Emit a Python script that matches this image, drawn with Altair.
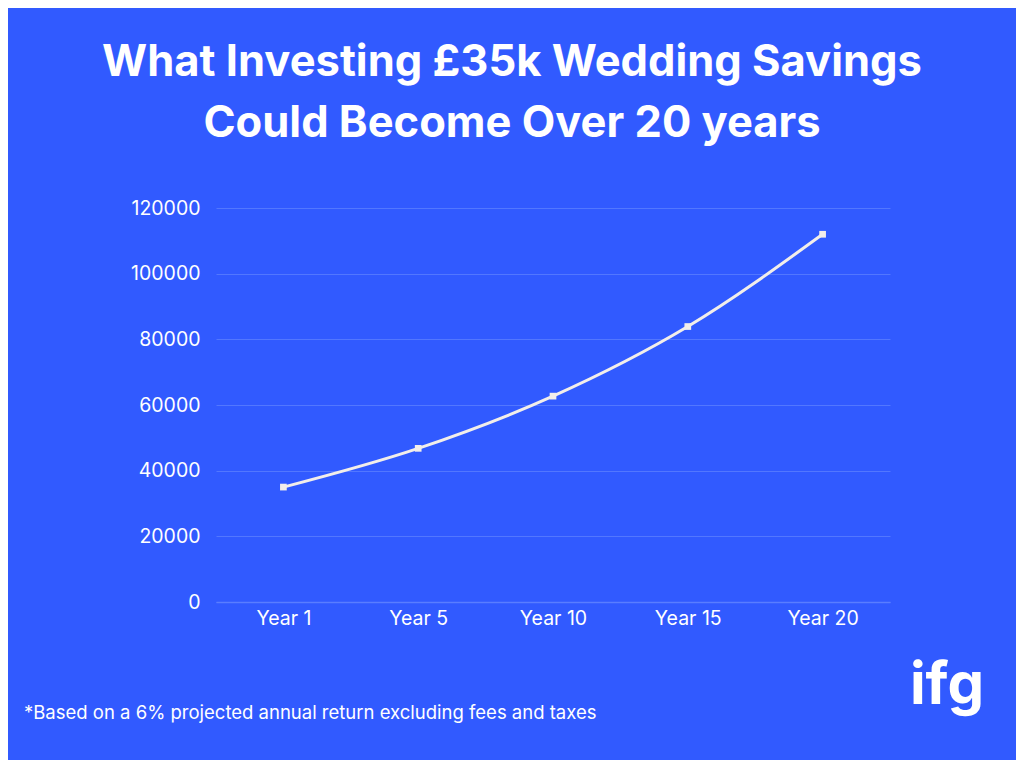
import altair as alt
import pandas as pd

years = ["Year 1", "Year 5", "Year 10", "Year 15", "Year 20"]
values = [35000, 46800, 62700, 83900, 112000]

title_lines = ["What Investing £35k Wedding Savings", "Could Become Over 20 years"]
footnote = "*Based on a 6% projected annual return excluding fees and taxes"
logo = "ifg"

BG = "#315AFF"
LINE = "#F2EEEA"
FONT = "Inter"

df = pd.DataFrame({"year": years, "value": values})

x = alt.X("year:N", sort=years, title=None,
          scale=alt.Scale(type="point", padding=0.5),
          axis=alt.Axis(labelAngle=0, labelColor="#FFFFFF", labelFontSize=19.5,
                        labelFont=FONT, labelPadding=7, ticks=False,
                        domainColor="#5A7DFF", domainWidth=1.5, grid=False))
y = alt.Y("value:Q", title=None,
          scale=alt.Scale(domain=[0, 120000]),
          axis=alt.Axis(values=[0, 20000, 40000, 60000, 80000, 100000, 120000],
                        format="d", labelColor="#FFFFFF", labelFontSize=19.5,
                        labelFont=FONT, labelPadding=16, ticks=False,
                        domain=False, gridColor="#5277FF", gridWidth=1))

line = alt.Chart(df).mark_line(color=LINE, strokeWidth=3, interpolate="monotone").encode(x=x, y=y)
pts = alt.Chart(df).mark_point(shape="square", filled=True, color=LINE, size=45, opacity=1).encode(x=x, y=y)

tdf = pd.DataFrame({"t": title_lines, "py": [-132, -71]})
title = alt.Chart(tdf).mark_text(font=FONT, fontSize=43.5, fontWeight="bold", color="#FFFFFF",
                                  align="center", baseline="alphabetic").encode(
    x=alt.value(296), y=alt.Y("py:Q", scale=None), text="t:N")

fdf = pd.DataFrame({"t": [footnote]})
foot = alt.Chart(fdf).mark_text(font=FONT, fontSize=18.5, color="#FFFFFF", align="left",
                                 baseline="alphabetic").encode(
    x=alt.value(-192), y=alt.value(511), text="t:N")

ldf = pd.DataFrame({"t": [logo]})
logo_m = alt.Chart(ldf).mark_text(font=FONT, fontSize=58, fontWeight="bold", color="#FFFFFF",
                                   align="center", baseline="alphabetic").encode(
    x=alt.value(731), y=alt.value(496), text="t:N")

chart = alt.layer(line, pts, title, foot, logo_m).properties(
    width=674, height=394,
    background=BG,
    autosize=alt.AutoSizeParams(type="none"),
    padding={"left": 208, "top": 200, "right": 126, "bottom": 158},
).configure_view(stroke=None).configure_axis(labelFont=FONT)

chart.save("out.html", embed_options={"renderer": "svg", "actions": False})
